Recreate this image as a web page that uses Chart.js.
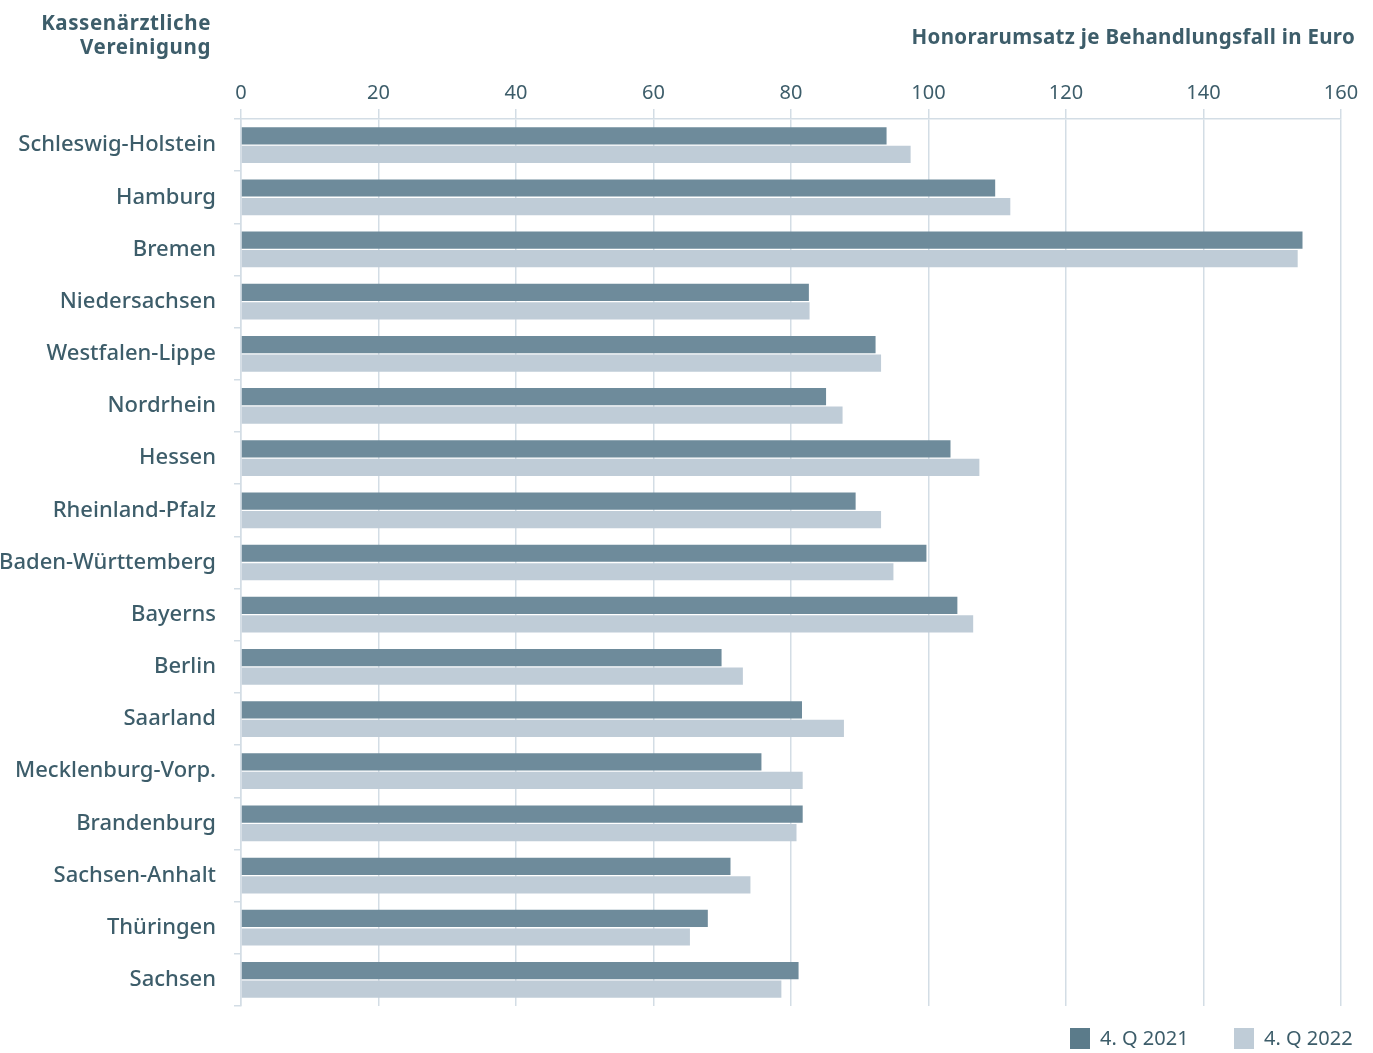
<!DOCTYPE html>
<html>
<head>
<meta charset="utf-8">
<script src="https://cdn.jsdelivr.net/npm/chart.js@4.4.1/dist/chart.umd.min.js"></script>
<style>
  html, body { margin: 0; padding: 0; background: #ffffff; }
  #wrap { position: relative; width: 1373px; height: 1053px; }
  canvas { position: absolute; left: 0; top: 0; }
  .ttl { position: absolute; font-family: "Noto Sans", sans-serif; font-weight: 700; color: #3d5d6a; font-size: 20.5px; line-height: 24px; text-align: right; letter-spacing: 0.3px; }
</style>
</head>
<body>
<div id="wrap">
  <canvas id="c" width="1373" height="1053"></canvas>
  <div class="ttl" id="t1" style="right:1162px; top:10px; letter-spacing:0.6px;">Kassenärztliche<br>Vereinigung</div>
  <div class="ttl" id="t2" style="right:18px; top:24px;">Honorarumsatz je Behandlungsfall in Euro</div>
</div>
<script>
const categories = ["Schleswig-Holstein","Hamburg","Bremen","Niedersachsen","Westfalen-Lippe","Nordrhein","Hessen","Rheinland-Pfalz","Baden-Württemberg","Bayerns","Berlin","Saarland","Mecklenburg-Vorp.","Brandenburg","Sachsen-Anhalt","Thüringen","Sachsen"];
const seriesNames = ["4. Q 2021", "4. Q 2022"];
const values2021 = [93.9, 109.7, 154.4, 82.6, 92.3, 85.1, 103.2, 89.4, 99.7, 104.2, 69.9, 81.6, 75.7, 81.7, 71.2, 67.9, 81.1];
const values2022 = [97.4, 111.9, 153.7, 82.7, 93.1, 87.5, 107.4, 93.1, 94.9, 106.5, 73.0, 87.7, 81.7, 80.8, 74.1, 65.3, 78.6];
const xTicks = [0, 20, 40, 60, 80, 100, 120, 140, 160];

const TEXT = "#3d5d6a";
const GRID = "#d3dde5";
const FONT = "'Noto Sans', sans-serif";
const barColors = ["#6e8b9b", "#bfccd7"];
const legendColors = ["#5b7b8a", "#bfccd7"];

const legendPlugin = {
  id: "customLegend",
  afterDraw(chart) {
    const ctx = chart.ctx;
    ctx.save();
    ctx.font = "20px " + FONT;
    ctx.textBaseline = "middle";
    ctx.textAlign = "left";
    const y = 1038;
    const starts = [1070, 1234];
    chart.data.datasets.forEach((ds, i) => {
      ctx.fillStyle = legendColors[i];
      ctx.fillRect(starts[i], y - 10, 20, 21);
      ctx.fillStyle = TEXT;
      ctx.fillText(ds.label, starts[i] + 30, y + 1);
    });
    ctx.restore();
  }
};

new Chart(document.getElementById("c"), {
  type: "bar",
  data: {
    labels: categories,
    datasets: [
      { label: seriesNames[0], data: values2021, backgroundColor: barColors[0], barPercentage: 0.93, categoryPercentage: 0.71 },
      { label: seriesNames[1], data: values2022, backgroundColor: barColors[1], barPercentage: 0.93, categoryPercentage: 0.71 }
    ]
  },
  options: {
    indexAxis: "y",
    responsive: false,
    animation: false,
    devicePixelRatio: 1,
    layout: { padding: { top: 0, right: 32, bottom: 47, left: 0 } },
    plugins: { legend: { display: false }, tooltip: { enabled: false } },
    scales: {
      x: {
        position: "top",
        min: 0, max: 160,
        afterBuildTicks(scale) { scale.ticks = xTicks.map(v => ({ value: v })); },
        afterFit(scale) { scale.height = 119; },
        ticks: { color: TEXT, font: { family: FONT, size: 20 }, padding: 4, maxRotation: 0 },
        grid: { color: GRID, lineWidth: 1.5, tickLength: 10, drawTicks: true },
        border: { display: true, color: GRID, width: 1.5 }
      },
      y: {
        afterFit(scale) { scale.width = 241; },
        ticks: { color: TEXT, font: { family: FONT, size: 22, weight: 500 }, padding: 18 },
        grid: { drawOnChartArea: false, drawTicks: true, tickLength: 7, color: GRID, lineWidth: 1.5, offset: true },
        border: { display: true, color: GRID, width: 1.5 }
      }
    }
  },
  plugins: [legendPlugin]
});
</script>
</body>
</html>
